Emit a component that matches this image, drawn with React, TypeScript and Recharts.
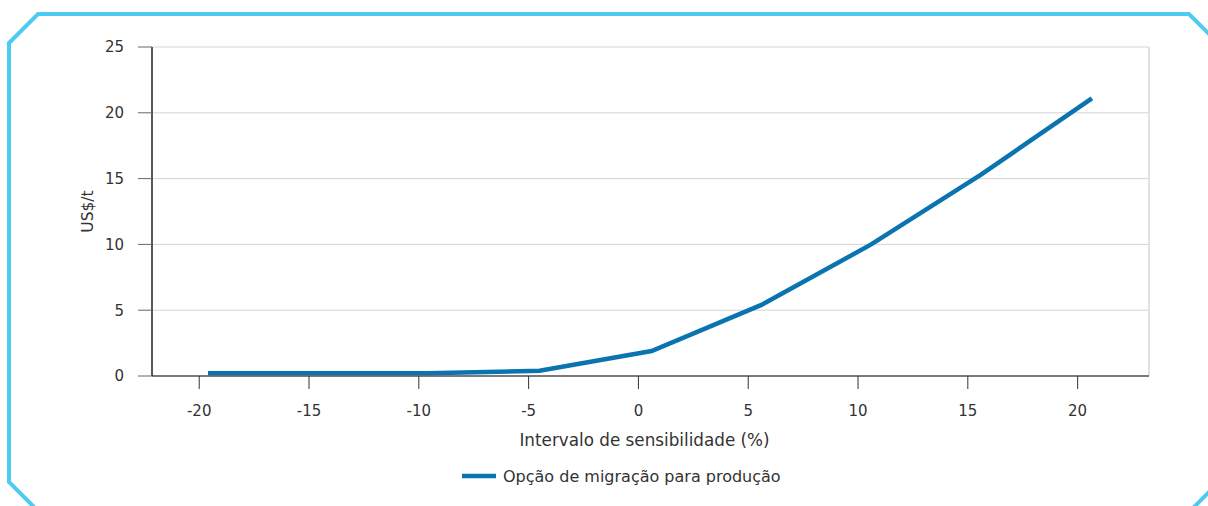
import React from 'react';
import { LineChart, Line, XAxis, YAxis, CartesianGrid, Legend, ReferenceLine } from 'recharts';

// sensitivity interval (%) of each point
const sensitivity = [-19.6, -14.6, -9.6, -4.5, 0.6, 5.6, 10.6, 15.6, 20.65];
// cost in US$/t
const costValues = [0.2, 0.2, 0.2, 0.4, 1.9, 5.4, 10.0, 15.3, 21.1];

const xTicks = [-20, -15, -10, -5, 0, 5, 10, 15, 20];
const yTicks = [0, 5, 10, 15, 20, 25];
const xDomain = [-22.15, 23.25];

const seriesName = 'Opção de migração para produção';
const xTitle = 'Intervalo de sensibilidade (%)';
const yTitle = 'US$/t';

const lineColor = '#0a74b0';
const font = '"DejaVu Sans", "Noto Sans", sans-serif';

const data = sensitivity.map((x, i) => ({ x, value: costValues[i] }));

const YTitle = ({ viewBox }: any) => {
    const cx = viewBox.x + 11;
    const cy = viewBox.y + viewBox.height / 2;
    return (
        <text x={cx} y={cy} transform={`rotate(-90 ${cx} ${cy})`} textAnchor="middle" fill="#333" fontSize={15.5} fontFamily={font}>
            {yTitle}
        </text>
    );
};

const LegendContent = () => (
    <div style={{ display: 'flex', alignItems: 'center', marginLeft: 462, height: 40, fontFamily: font, fontSize: 16, color: '#333' }}>
        <svg width={34} height={6} style={{ marginRight: 7 }}>
            <line x1={0} y1={3} x2={34} y2={3} stroke={lineColor} strokeWidth={4.5} />
        </svg>
        <span>{seriesName}</span>
    </div>
);

export default function App() {
    return (
        <div style={{ position: 'absolute', left: 0, top: 0, width: 1208, height: 506, background: '#fff', overflow: 'hidden' }}>
            {/* cut-corner frame */}
            <svg width={1208} height={506} style={{ position: 'absolute', left: 0, top: 0 }}>
                <polygon points="9,43 38,14 1189,14 1219,44 1219,482 1189,512 39,512 9,482" fill="none" stroke="#4ccbf3" strokeWidth={4} />
            </svg>
            <div style={{ position: 'absolute', left: 0, top: 0 }}>
                <LineChart width={1208} height={506} data={data} margin={{ top: 47, right: 59, left: 82, bottom: 10 }}>
                    <CartesianGrid vertical={false} stroke="#d4d4d4" strokeWidth={1} />
                    <ReferenceLine x={xDomain[1]} stroke="#d8d8d8" strokeWidth={1.5} />
                    <XAxis
                        type="number"
                        dataKey="x"
                        domain={xDomain}
                        ticks={xTicks}
                        allowDataOverflow
                        height={80}
                        tickSize={13}
                        tickMargin={16}
                        tick={{ fill: '#333', fontSize: 15, fontFamily: font }}
                        axisLine={{ stroke: '#555', strokeWidth: 1.5 }}
                        tickLine={{ stroke: '#333' }}
                        label={{ value: xTitle, position: 'insideBottom', offset: 10, dx: -6, fill: '#333', fontSize: 16.8, fontFamily: font }}
                    />
                    <YAxis
                        type="number"
                        domain={[0, 25]}
                        ticks={yTicks}
                        width={70}
                        tickSize={14}
                        tickMargin={14}
                        tick={{ fill: '#333', fontSize: 15, fontFamily: font }}
                        axisLine={{ stroke: '#222', strokeWidth: 1.5 }}
                        tickLine={{ stroke: '#666' }}
                        label={<YTitle />}
                    />
                    <Legend verticalAlign="bottom" height={40} wrapperStyle={{ left: 0, width: 1208 }} content={<LegendContent />} />
                    <Line
                        type="linear"
                        dataKey="value"
                        name={seriesName}
                        stroke={lineColor}
                        strokeWidth={4.5}
                        dot={false}
                        activeDot={false}
                        isAnimationActive={false}
                    />
                </LineChart>
            </div>
        </div>
    );
}
